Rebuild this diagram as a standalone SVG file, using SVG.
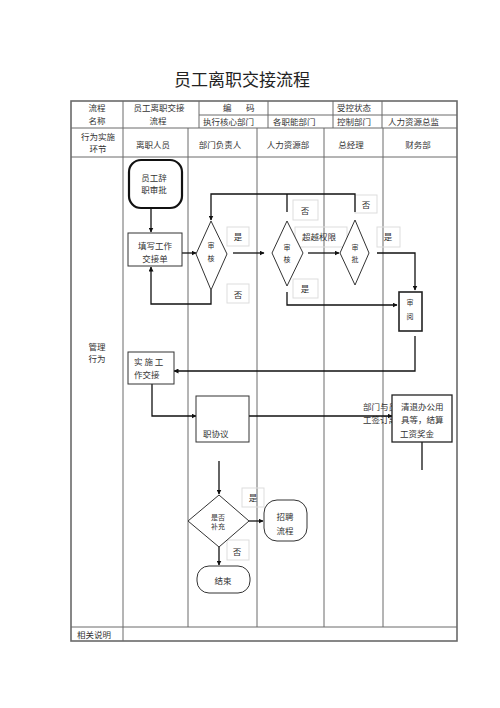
<svg xmlns="http://www.w3.org/2000/svg" width="500" height="708" viewBox="0 0 500 708">
<style>
text{font-family:"Noto Sans CJK SC","Noto Sans",sans-serif;fill:#333;font-size:8.5px;dominant-baseline:central}
.c{text-anchor:middle}
.grid{stroke:#6a6a6a;stroke-width:1;fill:none}
.outer{stroke:#6a6a6a;stroke-width:1.6;fill:none}
.box{fill:#fff;stroke:#333;stroke-width:1}
.dia{fill:#fff;stroke:#333;stroke-width:1}
.lbl{fill:none;stroke:#ddd;stroke-width:1}
.con{fill:none;stroke:#111;stroke-width:1.3}
.sm{font-size:7px}
</style>
<defs>
<marker id="ah" viewBox="0 0 10 10" refX="9" refY="5" markerWidth="5" markerHeight="5" orient="auto" markerUnits="userSpaceOnUse">
<path d="M0,0 L10,5 L0,10 z" fill="#111"/>
</marker>
</defs>
<rect width="500" height="708" fill="#fff"/>
<text x="242" y="78" class="c" style="font-size:17px;fill:#222">员工离职交接流程</text>

<g id="table">
<rect x="71" y="101" width="386" height="540" class="outer"/>
<line x1="199" y1="115" x2="457" y2="115" class="grid"/>
<line x1="71" y1="128" x2="457" y2="128" class="grid"/>
<line x1="71" y1="157" x2="457" y2="157" class="grid"/>
<line x1="71" y1="627" x2="457" y2="627" class="grid"/>
<line x1="123" y1="101" x2="123" y2="641" class="grid"/>
<line x1="199" y1="101" x2="199" y2="128" class="grid"/>
<line x1="268" y1="101" x2="268" y2="128" class="grid"/>
<line x1="333" y1="101" x2="333" y2="128" class="grid"/>
<line x1="382" y1="101" x2="382" y2="128" class="grid"/>
<line x1="188" y1="128" x2="188" y2="627" class="grid"/>
<line x1="257" y1="128" x2="257" y2="627" class="grid"/>
<line x1="324" y1="128" x2="324" y2="627" class="grid"/>
<line x1="383" y1="128" x2="383" y2="627" class="grid"/>
<text x="97" y="107" class="c">流程</text>
<text x="97" y="120" class="c">名称</text>
<text x="159" y="107" class="c">员工离职交接</text>
<text x="158" y="120" class="c">流程</text>
<text x="223" y="107">编</text>
<text x="246" y="107">码</text>
<text x="337" y="107">受控状态</text>
<text x="203" y="121">执行核心部门</text>
<text x="273" y="121">各职能部门</text>
<text x="337" y="121">控制部门</text>
<text x="388" y="121">人力资源总监</text>
<text x="98" y="136" class="c">行为实施</text>
<text x="98" y="148" class="c">环节</text>
<text x="153" y="144" class="c">离职人员</text>
<text x="220" y="144" class="c">部门负责人</text>
<text x="288" y="144" class="c">人力资源部</text>
<text x="351" y="144" class="c">总经理</text>
<text x="418" y="144" class="c">财务部</text>
<text x="97" y="346" class="c">管理</text>
<text x="97" y="358" class="c">行为</text>
<text x="77" y="634">相关说明</text>
</g>

<g id="labels">
<rect x="227" y="227" width="22" height="19" class="lbl"/><text x="238" y="236" class="c">是</text>
<rect x="227" y="284" width="22" height="19" class="lbl"/><text x="238" y="294" class="c">否</text>
<rect x="293" y="200" width="25" height="20" class="lbl"/><text x="305" y="210" class="c">否</text>
<rect x="295" y="227" width="52" height="20" class="lbl"/><text x="302" y="236">超越权限</text>
<rect x="293" y="279" width="25" height="19" class="lbl"/><text x="305" y="288" class="c">是</text>
<rect x="355" y="195" width="22" height="18" class="lbl"/><text x="366" y="204" class="c">否</text>
<rect x="377" y="227" width="23" height="20" class="lbl"/><text x="388" y="236" class="c">是</text>
<rect x="242" y="488" width="22" height="19" class="lbl"/><text x="253" y="497" class="c">是</text>
<rect x="227" y="540" width="22" height="20" class="lbl"/><text x="237" y="551" class="c">否</text>
<text x="363" y="406">部门与员</text>
<text x="363" y="419">工签订离</text>
</g>

<g id="connectors">
<path d="M151,208 V232" class="con" marker-end="url(#ah)"/>
<path d="M182,253 H196" class="con" marker-end="url(#ah)"/>
<path d="M211,290 V304 H151 V267" class="con" marker-end="url(#ah)"/>
<path d="M233,253 H264" class="con" marker-end="url(#ah)"/>
<path d="M308,253 H339" class="con" marker-end="url(#ah)"/>
<path d="M355,212 V194 H211 V220" class="con" marker-end="url(#ah)"/>
<path d="M287,212 V194" class="con"/>
<path d="M377,253 H415 V290" class="con" marker-end="url(#ah)"/>
<path d="M287,292 V305 H397" class="con" marker-end="url(#ah)"/>
<path d="M415,336 V371 H174" class="con" marker-end="url(#ah)"/>
<path d="M152,384 V416 H196" class="con" marker-end="url(#ah)"/>
<path d="M249,416 H392" class="con" marker-end="url(#ah)"/>
<path d="M422,442 V470" class="con"/>
<path d="M219,461 V494" class="con" marker-end="url(#ah)"/>
<path d="M249,521 H263" class="con" marker-end="url(#ah)"/>
<path d="M219,547 V565" class="con" marker-end="url(#ah)"/>
</g>

<g id="n_start">
<rect x="129" y="160" width="53" height="48" rx="12" fill="#fff" stroke="#111" stroke-width="2.2"/>
<text x="154" y="177" class="c">员工辞</text>
<text x="154" y="189" class="c">职审批</text>
</g>
<g id="n_fill">
<rect x="128" y="233" width="54" height="33" class="box"/>
<text x="155" y="245" class="c">填写工作</text>
<text x="155" y="258" class="c">交接单</text>
</g>
<g id="n_dept_review">
<polygon points="211,221 227,254 211,290 196,254" class="dia"/>
<text x="211" y="245" class="c sm">审</text>
<text x="211" y="258" class="c sm">核</text>
</g>
<g id="n_hr_review">
<polygon points="287,221 303,253 287,286 272,253" class="dia"/>
<text x="287" y="247" class="c sm">审</text>
<text x="287" y="259" class="c sm">核</text>
</g>
<g id="n_gm_approve">
<polygon points="355,220 369,253 355,285 340,253" class="dia"/>
<text x="355" y="247" class="c sm">审</text>
<text x="355" y="259" class="c sm">批</text>
</g>
<g id="n_fin_review">
<rect x="399" y="292" width="23" height="39" fill="#fff" stroke="#222" stroke-width="1.6"/>
<text x="410" y="302" class="c sm">审</text>
<text x="410" y="316" class="c sm">阅</text>
</g>
<g id="n_handover">
<rect x="128" y="352" width="46" height="32" class="box"/>
<text x="134" y="361">实 施 工</text>
<text x="134" y="374">作交接</text>
</g>
<g id="n_agreement">
<rect x="196" y="396" width="53" height="46" class="box"/>
<text x="203" y="433">职协议</text>
</g>
<g id="n_clear">
<rect x="392" y="395" width="60" height="47" fill="#fff" stroke="#222" stroke-width="1.3"/>
<text x="401" y="406">清退办公用</text>
<text x="401" y="419">具等，结算</text>
<text x="400" y="433">工资奖金</text>
</g>
<g id="n_supplement">
<polygon points="219,495 249,521 219,547 188,521" class="dia"/>
<text x="218" y="517" class="c sm">是否</text>
<text x="218" y="526" class="c sm">补充</text>
</g>
<g id="n_recruit">
<rect x="264" y="500" width="43" height="41" rx="13" class="box"/>
<text x="285" y="516" class="c">招聘</text>
<text x="285" y="530" class="c">流程</text>
</g>
<g id="n_end">
<rect x="197" y="566" width="53" height="27" rx="12" class="box"/>
<text x="223" y="580" class="c">结束</text>
</g>
</svg>
